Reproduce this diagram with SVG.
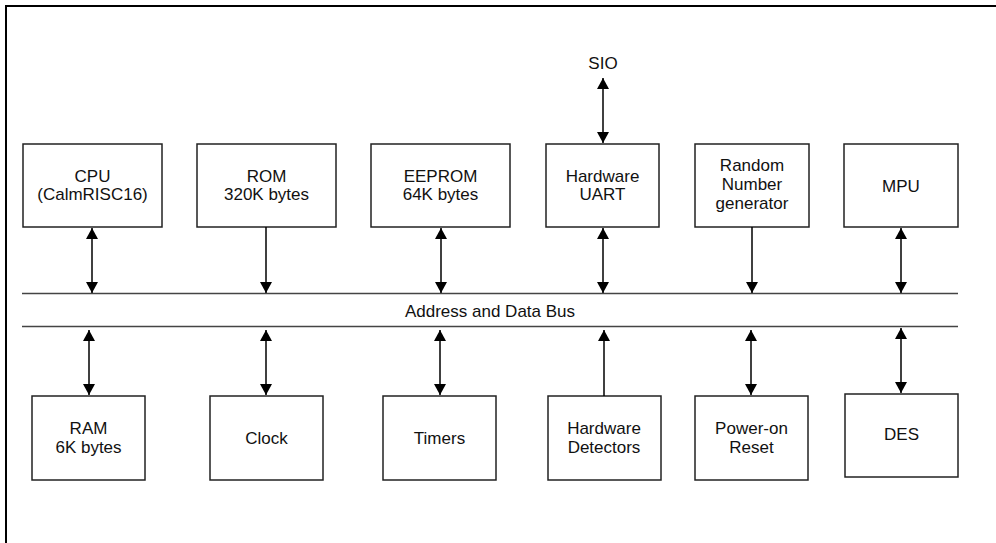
<svg xmlns="http://www.w3.org/2000/svg" width="996" height="543" viewBox="0 0 996 543">
<defs>
<marker id="ah" markerUnits="userSpaceOnUse" markerWidth="12" markerHeight="12" viewBox="0 0 11 12" refX="11" refY="6" orient="auto-start-reverse">
<path d="M0,0 L11,6 L0,12 Z" fill="#000"/>
</marker>
<style>
.box{fill:#fff;stroke:#222;stroke-width:1.5}
.t{font-family:"Liberation Sans",Arial,sans-serif;font-size:17px;fill:#111;text-anchor:middle}
.c{stroke:#000;stroke-width:1.5;fill:none}
.bus{stroke:#444;stroke-width:1.6}
</style>
</defs>
<rect width="996" height="543" fill="#fff"/>
<path d="M6,543 V6 H996" fill="none" stroke="#000" stroke-width="2"/>
<g id="bus">
<line class="bus" x1="22" y1="293.5" x2="958" y2="293.5"/>
<line class="bus" x1="22" y1="326.5" x2="958" y2="326.5"/>
<text class="t" x="490" y="317">Address and Data Bus</text>
</g>
<g id="sio"><text class="t" x="603" y="69">SIO</text></g>
<g id="cpu"><rect class="box" x="23" y="144" width="139" height="83"/><text class="t" x="92.5" y="182">CPU</text><text class="t" x="92.5" y="200">(CalmRISC16)</text></g>
<g id="rom"><rect class="box" x="197" y="144" width="139" height="83"/><text class="t" x="266.5" y="182">ROM</text><text class="t" x="266.5" y="200">320K bytes</text></g>
<g id="eeprom"><rect class="box" x="371" y="144" width="139" height="83"/><text class="t" x="440.5" y="182">EEPROM</text><text class="t" x="440.5" y="200">64K bytes</text></g>
<g id="uart"><rect class="box" x="546" y="144" width="113" height="83"/><text class="t" x="602.5" y="182">Hardware</text><text class="t" x="602.5" y="200">UART</text></g>
<g id="rng"><rect class="box" x="695" y="144" width="114" height="83"/><text class="t" x="752" y="171">Random</text><text class="t" x="752" y="190">Number</text><text class="t" x="752" y="209">generator</text></g>
<g id="mpu"><rect class="box" x="844" y="144" width="114" height="83"/><text class="t" x="901" y="191.5">MPU</text></g>
<g id="ram"><rect class="box" x="32" y="396" width="113" height="84"/><text class="t" x="88.5" y="434">RAM</text><text class="t" x="88.5" y="452.7">6K bytes</text></g>
<g id="clock"><rect class="box" x="210" y="396" width="113" height="84"/><text class="t" x="266.5" y="443.5">Clock</text></g>
<g id="timers"><rect class="box" x="383" y="396" width="113" height="84"/><text class="t" x="439.5" y="443.5">Timers</text></g>
<g id="hwdet"><rect class="box" x="548" y="396" width="113" height="84"/><text class="t" x="604" y="434">Hardware</text><text class="t" x="604" y="452.7">Detectors</text></g>
<g id="por"><rect class="box" x="695" y="396" width="113" height="84"/><text class="t" x="751.5" y="434">Power-on</text><text class="t" x="751.5" y="452.7">Reset</text></g>
<g id="des"><rect class="box" x="845" y="394" width="113" height="83"/><text class="t" x="901.5" y="440">DES</text></g>
<g id="connectors">
<line class="c" x1="603" y1="78" x2="603" y2="143" marker-start="url(#ah)" marker-end="url(#ah)"/>
<line class="c" x1="92" y1="228" x2="92" y2="293" marker-start="url(#ah)" marker-end="url(#ah)"/>
<line class="c" x1="266" y1="227" x2="266" y2="293" marker-end="url(#ah)"/>
<line class="c" x1="441" y1="228" x2="441" y2="293" marker-start="url(#ah)" marker-end="url(#ah)"/>
<line class="c" x1="603" y1="228" x2="603" y2="293" marker-start="url(#ah)" marker-end="url(#ah)"/>
<line class="c" x1="752" y1="227" x2="752" y2="293" marker-end="url(#ah)"/>
<line class="c" x1="901" y1="228" x2="901" y2="293" marker-start="url(#ah)" marker-end="url(#ah)"/>
<line class="c" x1="89" y1="330" x2="89" y2="395" marker-start="url(#ah)" marker-end="url(#ah)"/>
<line class="c" x1="266" y1="330" x2="266" y2="395" marker-start="url(#ah)" marker-end="url(#ah)"/>
<line class="c" x1="440" y1="330" x2="440" y2="395" marker-start="url(#ah)" marker-end="url(#ah)"/>
<line class="c" x1="604" y1="396" x2="604" y2="330" marker-end="url(#ah)"/>
<line class="c" x1="751" y1="330" x2="751" y2="395" marker-start="url(#ah)" marker-end="url(#ah)"/>
<line class="c" x1="901" y1="328" x2="901" y2="393" marker-start="url(#ah)" marker-end="url(#ah)"/>
</g>
</svg>
